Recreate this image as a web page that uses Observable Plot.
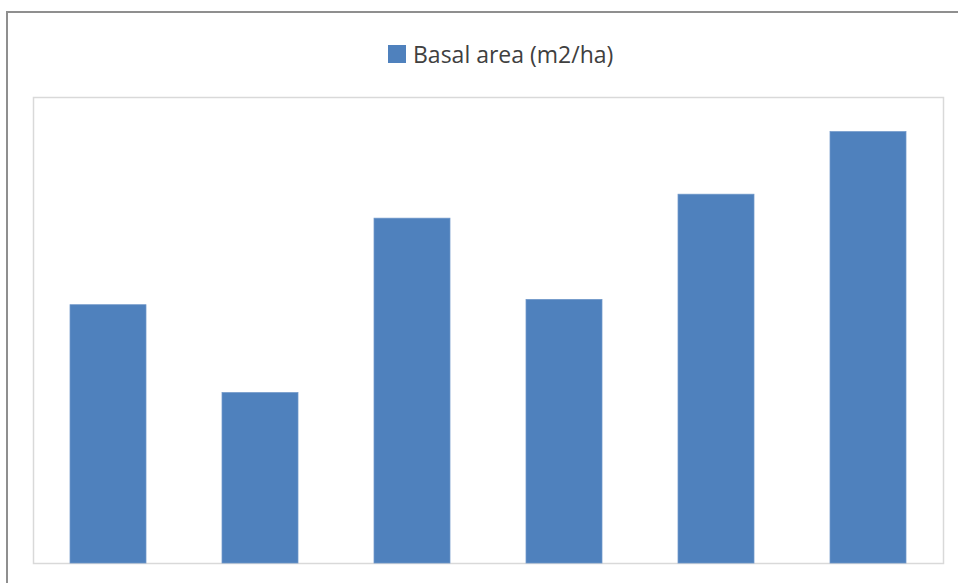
<!DOCTYPE html>
<html>
<head>
<meta charset="utf-8">
<script src="https://cdn.jsdelivr.net/npm/d3@7"></script>
<script src="https://cdn.jsdelivr.net/npm/@observablehq/plot@0.6"></script>
<style>
  html, body { margin: 0; padding: 0; background: #fff; }
  #wrap { position: relative; width: 958px; height: 583px; overflow: hidden; }
  #outer { position: absolute; left: 6px; top: 11px; width: 1000px; height: 1000px;
           border-top: 2px solid #8f8f8f; border-left: 2px solid #8f8f8f; box-sizing: border-box; }
  #legend { position: absolute; left: 0; top: 0; width: 958px; height: 96px; }
  #legend .sw { position: absolute; left: 388px; top: 45px; width: 18px; height: 18px; background: #4f81bd; }
  #legend .lbl { position: absolute; left: 413px; top: 38px; line-height: normal; white-space: nowrap;
                 font-family: "Open Sans", sans-serif; font-size: 23px; color: #404040; }
  #chart { position: absolute; left: 0; top: 96px; }
</style>
</head>
<body>
<div id="wrap">
  <div id="outer"></div>
  <div id="legend"><span class="sw"></span><span class="lbl" id="lbl"></span></div>
  <div id="chart"></div>
</div>
<script>
const categories = ["1", "2", "3", "4", "5", "6"];
const basalArea = [19.4, 12.8, 25.9, 19.8, 27.7, 32.4];
const seriesName = "Basal area (m2/ha)";

document.getElementById("lbl").textContent = seriesName;

const data = categories.map((c, i) => ({category: c, value: basalArea[i]}));

const chart = Plot.plot({
  width: 958,
  height: 487,
  marginTop: 1,
  marginBottom: 20,
  marginLeft: 33,
  marginRight: 15,
  x: {domain: categories, range: [32, 944], round: false, paddingInner: 0.5, paddingOuter: 0.25, axis: null},
  y: {domain: [0, 35], axis: null},
  marks: [
    Plot.frame({stroke: "#d9d9d9", strokeWidth: 1.5}),
    Plot.barY(data, {x: "category", y: "value", fill: "#4f81bd", stroke: "#6f97c9", strokeWidth: 0.75, title: d => `${seriesName}: ${d.value}`})
  ]
});
document.getElementById("chart").appendChild(chart);
</script>
</body>
</html>
